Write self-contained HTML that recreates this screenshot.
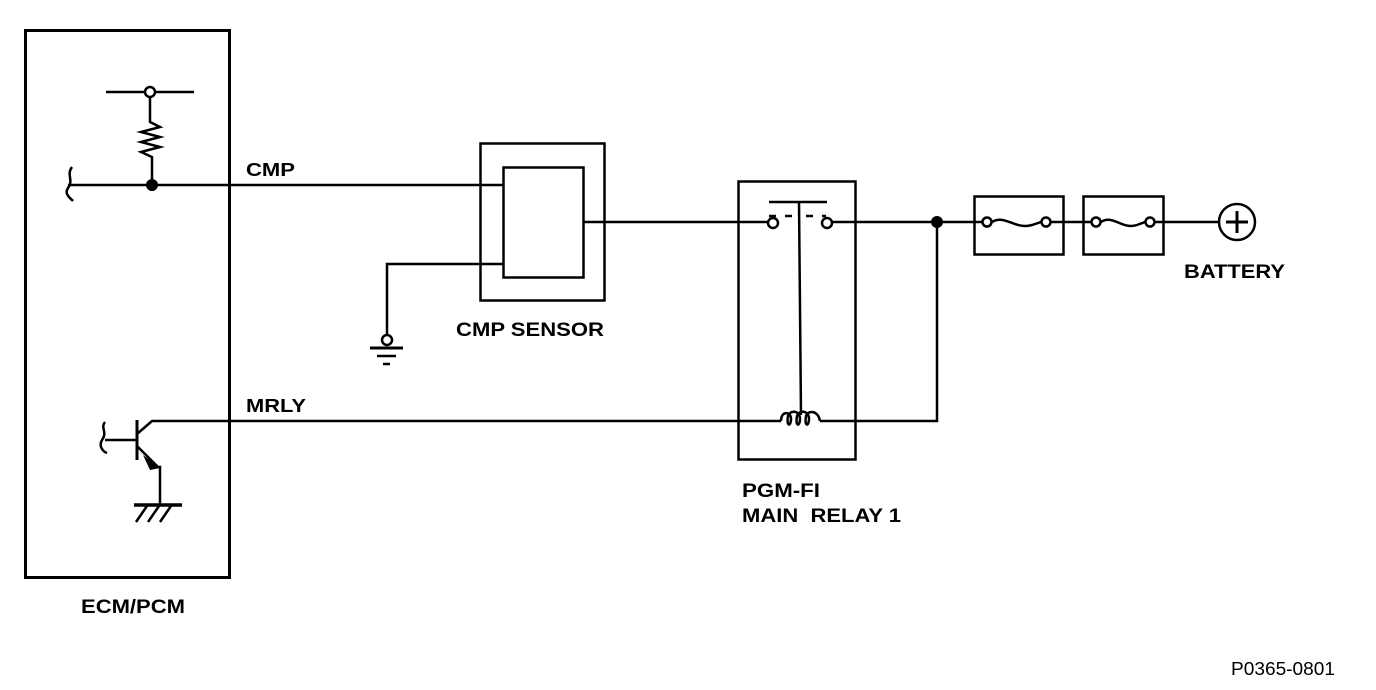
<!DOCTYPE html>
<html><head><meta charset="utf-8"><style>
html,body{margin:0;padding:0;background:#fff;}
svg{display:block;}
text{font-family:"Liberation Sans",Arial,sans-serif;font-weight:bold;fill:#000;}
</style></head><body>
<svg width="1376" height="690" viewBox="0 0 1376 690" xmlns="http://www.w3.org/2000/svg">
<g fill="none" stroke="#000" stroke-width="2.5">
<rect x="25.5" y="30.5" width="204" height="547" stroke-width="3"/>
<line x1="106" y1="92" x2="145" y2="92"/><line x1="155" y1="92" x2="194" y2="92"/>
<circle cx="150" cy="92" r="5"/>
<polyline points="150,97 150,122 160,127 141,132 160,137 141,142 160,147 141,152 152,157 152,184"/>
<line x1="68" y1="185" x2="503" y2="185"/>
<path d="M72,167 C66,175 74,180 68,188 C64,194 70,198 73,201"/>
<line x1="137" y1="420" x2="137" y2="460" stroke-width="3"/>
<line x1="105" y1="440" x2="137" y2="440"/>
<path d="M105,422 C100,428 108,432 102,440 C98,447 104,452 107,453"/>
<polyline points="137,434 152,421 230,421"/>
<polyline points="137,446 158,467 160,467 160,505"/>
<line x1="134" y1="505" x2="182" y2="505" stroke-width="3.5"/>
<line x1="147" y1="506" x2="136" y2="522"/><line x1="159" y1="506" x2="148" y2="522"/><line x1="171" y1="506" x2="160" y2="522"/>
<line x1="230" y1="421" x2="781" y2="421"/>
<rect x="480.5" y="143.5" width="124" height="157"/>
<rect x="503.5" y="167.5" width="80" height="110"/>
<line x1="583" y1="222" x2="768" y2="222"/>
<polyline points="503,264 387,264 387,335"/>
<circle cx="387" cy="340" r="5"/>
<line x1="370" y1="348" x2="403" y2="348" stroke-width="3"/>
<line x1="377" y1="356" x2="396" y2="356"/>
<line x1="383" y1="364" x2="390" y2="364"/>
<rect x="738.5" y="181.5" width="117" height="278"/>
<circle cx="773" cy="223" r="5"/><circle cx="827" cy="223" r="5"/>
<line x1="769" y1="202" x2="827" y2="202"/>
<line x1="799" y1="202" x2="801" y2="415"/>
<line x1="769" y1="216" x2="776" y2="216"/><line x1="785" y1="216" x2="792" y2="216"/><line x1="806" y1="216" x2="813" y2="216"/><line x1="822" y1="216" x2="826" y2="216"/>
<path d="M781,421 C781,411 790,411 791,418 C791,428 786,426 788,416 C790,410 799,410 800,418 C800,428 795,426 797,416 C799,410 808,410 809,418 C809,428 804,426 806,416 C808,410 818,410 820,421"/>
<polyline points="820,421 937,421 937,222"/>
<line x1="832" y1="222" x2="982" y2="222"/>
<rect x="974.5" y="196.5" width="89" height="58"/>
<rect x="1083.5" y="196.5" width="80" height="58"/>
<circle cx="987" cy="222" r="4.5"/><circle cx="1046" cy="222" r="4.5"/>
<path d="M992,222 C1005,214 1015,230 1032,225 L1041,222"/>
<line x1="1051" y1="222" x2="1091" y2="222"/>
<circle cx="1096" cy="222" r="4.5"/><circle cx="1150" cy="222" r="4.5"/>
<path d="M1101,222 C1113,214 1122,230 1137,225 L1145,222"/>
<line x1="1155" y1="222" x2="1219" y2="222"/>
<circle cx="1237" cy="222" r="18"/>
<line x1="1237" y1="211" x2="1237" y2="233" stroke-width="3"/>
<line x1="1226" y1="222" x2="1248" y2="222" stroke-width="3"/>
</g>
<circle cx="152" cy="185" r="6" fill="#000"/>
<circle cx="937" cy="222" r="6" fill="#000"/>
<polygon points="143,455 160,468 150,470" fill="#000"/>
<text x="246" y="176" font-size="18" textLength="49" lengthAdjust="spacingAndGlyphs">CMP</text>
<text x="246" y="412" font-size="18" textLength="60" lengthAdjust="spacingAndGlyphs">MRLY</text>
<text x="456" y="336" font-size="19" textLength="148" lengthAdjust="spacingAndGlyphs">CMP SENSOR</text>
<text x="742" y="497" font-size="19" textLength="78" lengthAdjust="spacingAndGlyphs">PGM-FI</text>
<text x="742" y="522" font-size="19" xml:space="preserve" textLength="159" lengthAdjust="spacingAndGlyphs">MAIN  RELAY 1</text>
<text x="1184" y="278" font-size="19" textLength="101" lengthAdjust="spacingAndGlyphs">BATTERY</text>
<text x="81" y="613" font-size="19" textLength="104" lengthAdjust="spacingAndGlyphs">ECM/PCM</text>
<text x="1231" y="675" font-size="18" style="font-weight:normal" textLength="104" lengthAdjust="spacingAndGlyphs">P0365-0801</text>
</svg>
</body></html>
